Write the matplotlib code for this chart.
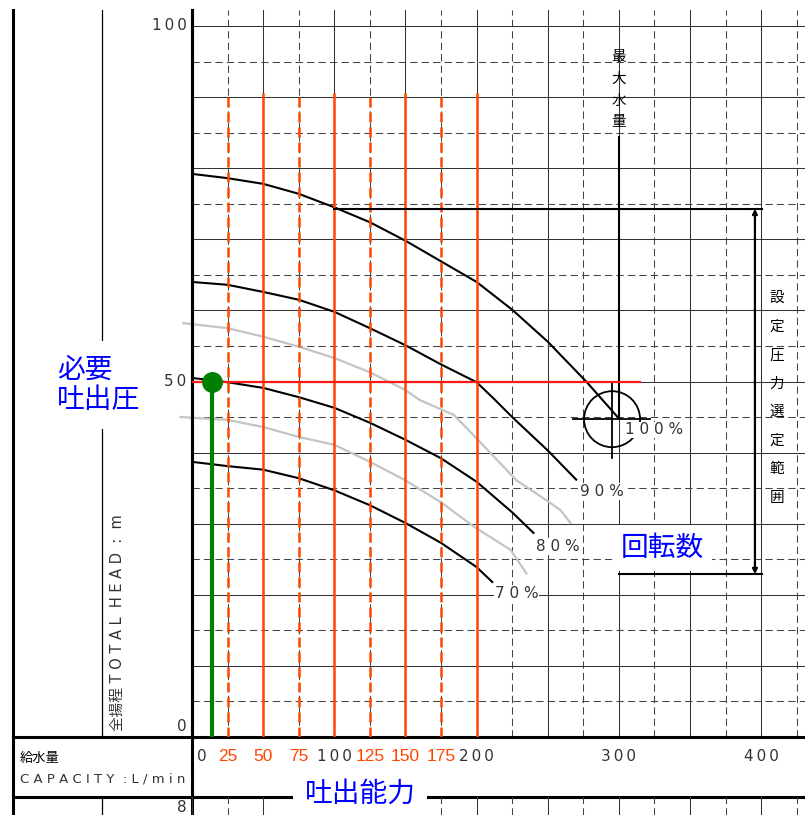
import matplotlib
matplotlib.use("Agg")
import matplotlib.pyplot as plt
from matplotlib.patches import Ellipse
from matplotlib.ticker import MultipleLocator

# --- Data (capacity L/min, total head m) ---
Q_100 = [0, 25, 50, 75, 100, 125, 150, 175, 200, 225, 250, 277, 300]
H_100 = [79.2, 78.6, 77.8, 76.4, 74.5, 72.4, 69.8, 66.9, 64.0, 60.1, 55.6, 50.0, 44.8]
Q_90 = [0, 25, 50, 75, 100, 125, 150, 175, 200, 212, 225, 250, 270]
H_90 = [64.0, 63.6, 62.6, 61.5, 59.8, 57.5, 55.1, 52.4, 49.9, 47.6, 45.0, 40.3, 36.2]
Q_80 = [0, 25, 50, 75, 100, 125, 150, 175, 200, 225, 240]
H_80 = [50.5, 49.9, 49.1, 47.8, 46.3, 44.2, 41.8, 39.2, 35.9, 31.6, 28.7]
Q_70 = [0, 25, 50, 75, 100, 125, 150, 175, 200, 211]
H_70 = [38.7, 38.1, 37.6, 36.4, 34.7, 32.6, 30.1, 27.3, 23.9, 21.8]
Q_GRAY_HI = [-6, 25, 50, 75, 100, 125, 150, 160, 184, 199, 228, 249, 259, 266]
H_GRAY_HI = [58.2, 57.5, 56.3, 54.9, 53.3, 51.3, 48.8, 47.4, 45.3, 42.2, 36.1, 33.3, 31.9, 30.1]
Q_GRAY_LO = [-8, 25, 50, 75, 100, 125, 150, 175, 198, 224, 235]
H_GRAY_LO = [45.0, 44.6, 43.6, 42.2, 41.1, 38.7, 36.1, 33.0, 29.6, 26.3, 23.0]

CURVE_LABELS = ["1 0 0 %", "9 0 %", "8 0 %", "7 0 %"]
LABEL_Q = [304, 273, 242, 213]
LABEL_H = [43.2, 34.5, 26.8, 20.2]

RED_Q = [25, 50, 75, 100, 125, 150, 175, 200]
RED_DASHED = [True, False, True, False, True, False, True, False]
RED_TOP = 90.4

REQ_Q = 14          # required capacity (green)
REQ_H = 50          # required discharge head
REQ_LINE_END = 315

MAX_Q = 300         # 最大水量
MAX_Q_TOP = 84.4
OP_Q, OP_H = 295.2, 44.7    # circled 100% point

RANGE_Q = 395.6     # 設定圧力選定範囲 bracket
RANGE_LO, RANGE_HI = 22.9, 74.3
RANGE_HI_START, RANGE_LO_START, RANGE_END = 100, 300, 400.6

XTICK_VALS = [0, 25, 50, 75, 100, 125, 150, 175, 200, 300, 400]
XTICK_TEXT = ["0", "25", "50", "75", "1\u20090\u20090", "125", "150", "175", "2\u20090\u20090",
              "3\u20090\u20090", "4\u20090\u20090"]
XTICK_RED = [False, True, True, True, False, True, True, True, False, False, False]
YTICK_VALS = [0, 50, 100]
YTICK_TEXT = ["0", "5\u20090", "1\u20090\u20090"]

W, H = 805, 815
PX_X = 1.423   # px per L/min
PX_Y = 7.11    # px per m

ORANGE = "#ff4500"
GRID = "#333333"
CAD = dict(family=["DejaVu Sans", "Noto Sans CJK JP"], color="#333333")
JP = dict(family=["Noto Sans CJK JP", "DejaVu Sans"])

fig = plt.figure(figsize=(W / 100, H / 100), dpi=100)

# frame / table lines in pixel space
frame = fig.add_axes([0, 0, 1, 1])
frame.set_xlim(0, W)
frame.set_ylim(H, 0)
frame.axis("off")
frame.plot([13, 13], [10, H], color="black", lw=2.2)
frame.plot([102, 102], [10, 737], color="black", lw=0.9)
frame.plot([102, 102], [797, H], color="black", lw=0.9)
frame.plot([192, 192], [10, H], color="black", lw=2.2)
frame.plot([13, 192], [737, 737], color="black", lw=2.2)
frame.plot([13, W], [797, 797], color="black", lw=2.2)

# main chart
ax = fig.add_axes([192 / W, (H - 737) / H, (W - 192) / W, (737 - 10) / H])
ax.patch.set_visible(False)
ax.set_xlim(0, (W - 192) / PX_X)
ax.set_ylim(0, (737 - 10) / PX_Y)
ax.xaxis.set_major_locator(MultipleLocator(50))
ax.xaxis.set_minor_locator(MultipleLocator(25))
ax.yaxis.set_major_locator(MultipleLocator(10))
ax.yaxis.set_minor_locator(MultipleLocator(5))
ax.grid(which="major", color=GRID, lw=0.75, ls="-")
ax.grid(which="minor", color="#444444", lw=0.75, ls=(0, (7, 4)))
ax.set_axisbelow(True)
ax.tick_params(which="both", length=0, labelbottom=False, labelleft=False)
for s in ["top", "right"]:
    ax.spines[s].set_visible(False)
for s in ["left", "bottom"]:
    ax.spines[s].set_linewidth(2.2)

# pump curves
for q, h in [(Q_GRAY_HI, H_GRAY_HI), (Q_GRAY_LO, H_GRAY_LO)]:
    ax.plot(q, h, color="#c4c4c4", lw=1.6, clip_on=False, zorder=2)
for q, h in [(Q_100, H_100), (Q_90, H_90), (Q_80, H_80), (Q_70, H_70)]:
    ax.plot(q, h, color="black", lw=1.5, zorder=2.2)

for txt, q, h in zip(CURVE_LABELS, LABEL_Q, LABEL_H):
    ax.text(q, h, txt, ha="left", va="center", fontsize=11, zorder=4,
            bbox=dict(facecolor="white", edgecolor="none", pad=0.5), **CAD)

# capacity guide lines
for q, dashed in zip(RED_Q, RED_DASHED):
    ax.plot([q, q], [0, RED_TOP], color=ORANGE, lw=1.8,
            ls=(0, (4, 2)) if dashed else "-", zorder=3)

ax.plot([0, REQ_LINE_END], [REQ_H, REQ_H], color="#ff1a1a", lw=1.6, zorder=3.5)
ax.plot([REQ_Q, REQ_Q], [0, REQ_H], color="#008000", lw=3, zorder=5)
ax.plot([REQ_Q], [REQ_H], "o", color="#008000", ms=14, zorder=5)

# max flow marker
ax.plot([MAX_Q, MAX_Q], [H_100[-1], MAX_Q_TOP], color="black", lw=1.5, zorder=3)
for i, ch in enumerate("最大水量"):
    ax.annotate(ch, xy=(MAX_Q, 95.6), xytext=(0, -15.6 * i), textcoords="offset points",
                ha="center", va="center", fontsize=10.5, **JP)

ax.add_patch(Ellipse((OP_Q, OP_H), 2 * 28 / PX_X, 2 * 28 / PX_Y, fill=False,
                     ec="black", lw=1.3, zorder=3))
ax.plot([OP_Q - 27.5, OP_Q + 26.7], [OP_H, OP_H], color="black", lw=1.3, zorder=3)
ax.plot([OP_Q, OP_Q], [OP_H - 5.5, OP_H + 5.1], color="black", lw=1.3, zorder=3)

# setting range bracket
ax.plot([RANGE_HI_START, RANGE_END], [RANGE_HI, RANGE_HI], color="black", lw=1.5, zorder=3)
ax.plot([RANGE_LO_START, RANGE_END], [RANGE_LO, RANGE_LO], color="black", lw=1.5, zorder=3)
ax.annotate("", xy=(RANGE_Q, RANGE_HI), xytext=(RANGE_Q, RANGE_LO),
            arrowprops=dict(arrowstyle="<|-|>", color="black", lw=1.6,
                            mutation_scale=7, shrinkA=0, shrinkB=0), zorder=3)
for i, ch in enumerate("設定圧力選定範囲"):
    ax.annotate(ch, xy=(411, 61.7), xytext=(0, -20.5 * i), textcoords="offset points",
                ha="center", va="center", fontsize=10.5, **JP)

ax.text(330.3, 26.6, "回転数", ha="center", va="center", fontsize=20, color="blue",
        zorder=6, bbox=dict(facecolor="white", edgecolor="none", pad=6), **JP)

# tick labels
for v, t, red in zip(XTICK_VALS, XTICK_TEXT, XTICK_RED):
    off = 7 if v == 0 else 0
    if red:
        ax.annotate(t, xy=(v, 0), xycoords=("data", "axes fraction"), xytext=(off, -14),
                    textcoords="offset points", ha="center", va="center", fontsize=12.5,
                    color=ORANGE, family="Liberation Sans")
    else:
        ax.annotate(t, xy=(v, 0), xycoords=("data", "axes fraction"), xytext=(off, -14),
                    textcoords="offset points", ha="center", va="center", fontsize=11, **CAD)
for v, t in zip(YTICK_VALS, YTICK_TEXT):
    ax.annotate(t, xy=(0, v), xycoords=("axes fraction", "data"),
                xytext=(-4, 2 if v == 0 else 0), textcoords="offset points",
                ha="right", va="bottom" if v == 0 else "center", fontsize=11, **CAD)

# lower strip (top of the next chart)
ax2 = fig.add_axes([192 / W, 0, (W - 192) / W, 18 / H])
ax2.patch.set_visible(False)
ax2.set_xlim(ax.get_xlim())
ax2.xaxis.set_major_locator(MultipleLocator(50))
ax2.xaxis.set_minor_locator(MultipleLocator(25))
ax2.grid(which="major", axis="x", color=GRID, lw=0.75, ls="-")
ax2.grid(which="minor", axis="x", color="#444444", lw=0.75, ls=(0, (7, 4)))
ax2.tick_params(which="both", length=0, labelbottom=False, labelleft=False)
for s in ax2.spines.values():
    s.set_visible(False)
ax2.annotate("8", xy=(0, 0.4), xycoords="axes fraction", xytext=(-4, 0),
             textcoords="offset points", ha="right", va="center", fontsize=11, **CAD)

# left column texts
fig.text(117 / W, (H - 731) / H, "全揚程 T O T A L  H E A D  :  m", rotation=90,
         ha="center", va="bottom", fontsize=10.5, **CAD)
fig.text(20 / W, (H - 758) / H, "給水量", ha="left", va="center", fontsize=9.5, **JP)
fig.text(20 / W, (H - 779) / H, "C A P A C I T Y  : L / m i n", ha="left", va="center",
         fontsize=9.5, **CAD)
fig.text(57 / W, (H - 385) / H, "必要\n吐出圧", ha="left", va="center", fontsize=20,
         color="blue", linespacing=1.0,
         bbox=dict(facecolor="white", edgecolor="none", pad=10), **JP)
fig.text(360 / W, (H - 794) / H, "吐出能力", ha="center", va="center", fontsize=20,
         color="blue", bbox=dict(facecolor="white", edgecolor="none", pad=8), **JP)

fig.savefig("out.png", dpi=100)
